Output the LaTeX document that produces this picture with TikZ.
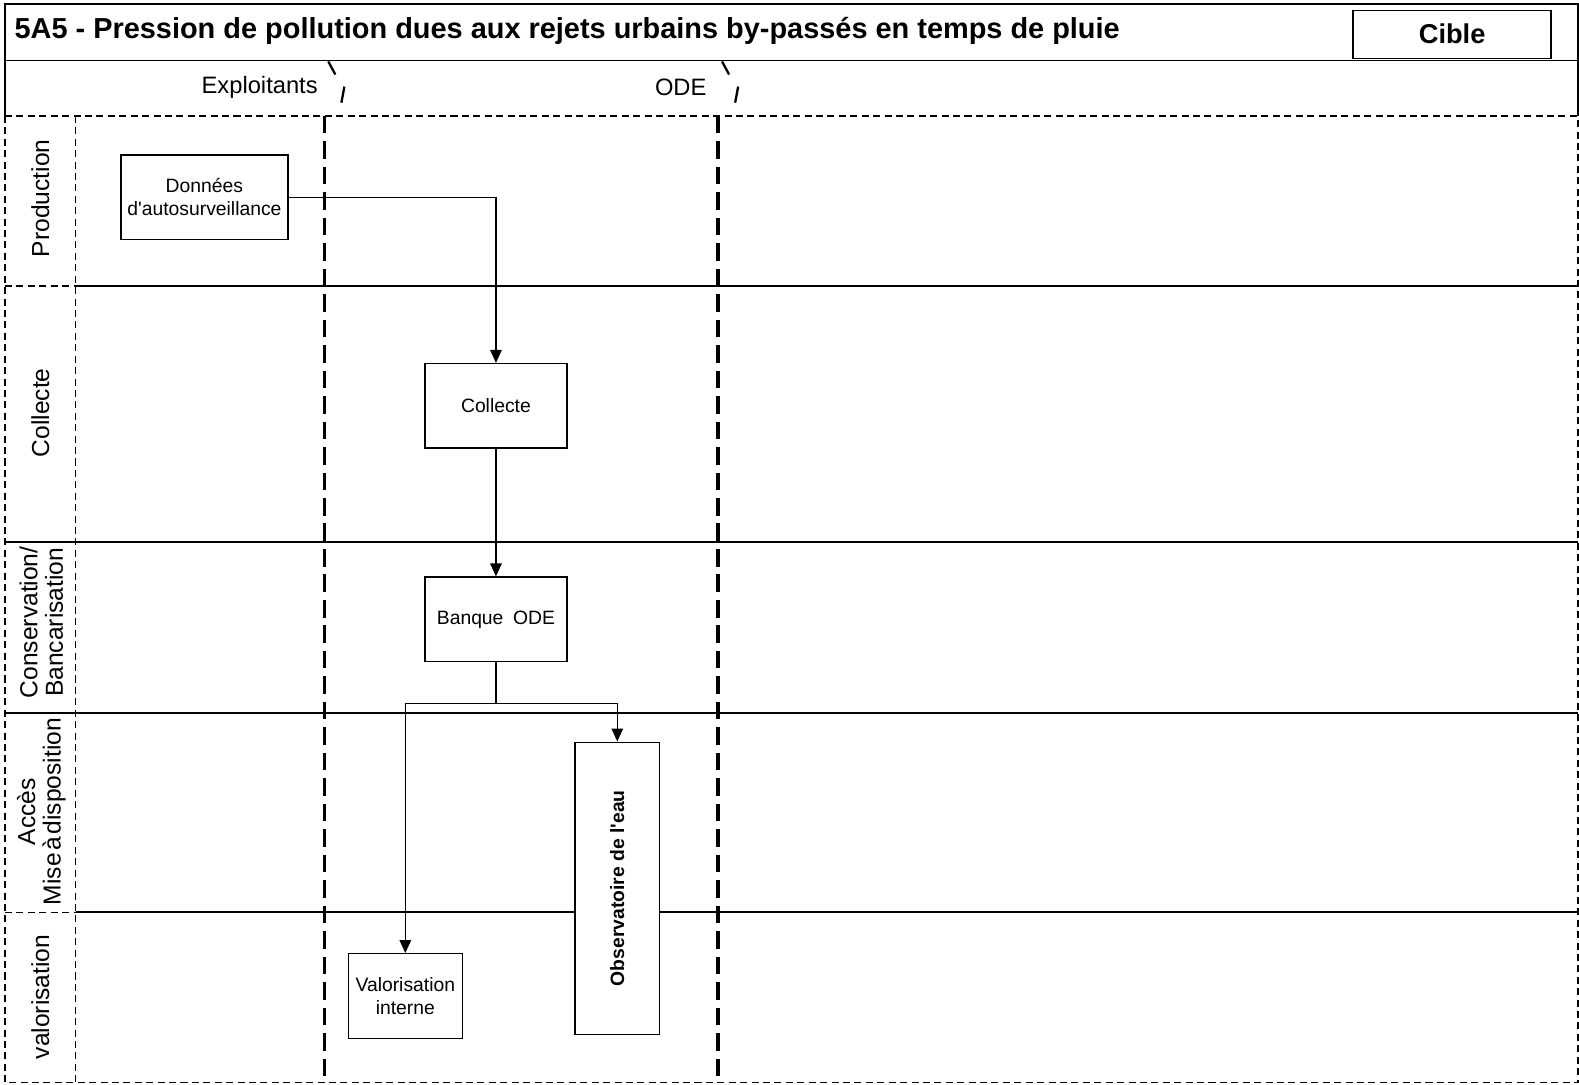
\documentclass[tikz,border=0pt]{standalone}
\usepackage{fontspec}
\setmainfont{Liberation Sans}
\usetikzlibrary{arrows.meta, positioning}
\tikzset{
  every picture/.style={line width=0.8pt},
  box/.style={draw, line width=0.75pt, align=center, inner sep=2pt, font=\fontsize{11}{13}\selectfont},
  arrow/.style={-{Triangle[length=2.6mm, width=2.3mm]}, line width=0.8pt},
  lane/.style={line width=1.2pt},
  column/.style={line width=2pt, dash pattern=on 10pt off 4.5pt},
  frame/.style={line width=0.8pt, dash pattern=on 4pt off 2.5pt},
  lanelabel/.style={rotate=90, align=center, font=\fontsize{14}{14.5}\selectfont},
  colhead/.style={anchor=east, font=\fontsize{13.5}{15}\selectfont},
}

\begin{document}
\begin{tikzpicture}[x=0.02014cm, y=-0.02014cm]
  \useasboundingbox (0,0) rectangle (1568,1077);
  % title and header rows
  \draw (5,115) -- (5,4) -- (1567,4) -- (1567,115);
  \draw (5,60) -- (1567,60);
  \node[anchor=west, font=\fontsize{16.45}{18}\selectfont\bfseries] (title) at (8,31) {5A5 - Pression de pollution dues aux rejets urbains by-passés en temps de pluie};
  \node[draw, line width=0.8pt, minimum width=3.96cm, minimum height=0.96cm, font=\fontsize{15.5}{17}\selectfont\bfseries] (cible) at (1442,34) {Cible};
  \node[colhead] (expl) at (322,87) {Exploitants};
  \node[colhead] (ode) at (708,87) {ODE};
  \foreach \x in {322,713} {
    \draw[line width=1.3pt] (\x+4,61) -- (\x+11,74);
    \draw[line width=1.3pt] (\x+20,86) -- (\x+17,102);
  }
  % swimlane frame
  \draw[frame] (5,115) -- (1567,115);
  \draw[frame] (5,115) -- (5,1075) -- (1567,1075) -- (1567,115);
  \draw[frame] (75,115) -- (75,1075);
  \foreach \y in {284,906} \draw[frame] (5,\y) -- (75,\y);
  \foreach \y in {538,708} \draw[lane] (5,\y) -- (75,\y);
  \foreach \y in {284,538,708,906} \draw[lane] (75,\y) -- (1567,\y);
  \draw[column] (322,115) -- (322,1075);
  \draw[column] (713,115) -- (713,1075);
  % lane labels
  \node[lanelabel] (lprod) at (40,197) {Production};
  \node[lanelabel] (lcoll) at (40,410) {Collecte};
  \node[lanelabel] (lcons) at (41,618) {Conservation/\\Bancarisation};
  \node[lanelabel] (lacc) at (41,806) {Accès\\Mise\hspace{1.5pt}à\hspace{1.5pt}disposition};
  \node[lanelabel] (lval) at (40,990) {valorisation};
  % process boxes
  \node[box, fill=white, minimum width=3.34cm, minimum height=1.69cm] (don) at (203,196) {Données\\d\textquotesingle autosurveillance};
  \node[box, minimum width=2.84cm, minimum height=1.69cm] (col) at (492.5,403) {Collecte};
  \node[box, minimum width=2.84cm, minimum height=1.69cm] (bnq) at (492.5,615) {Banque\hspace{0.5em}ODE};
  \node[box, fill=white, minimum width=1.69cm, minimum height=5.84cm] (obs) at (613,882) {\rotatebox{90}{\bfseries Observatoire de l\textquotesingle eau}};
  \node[box, minimum width=2.28cm, minimum height=1.69cm] (val) at (402.5,989) {Valorisation\\interne};
  % flows
  \draw[arrow] (don.east) -| (col.north);
  \draw[arrow] (col.south) -- (bnq.north);
  \draw (bnq.south) -- ++(0,41) coordinate (split);
  \draw[arrow] (split) -| (val.north);
  \draw[arrow] (split) -| (obs.north);
\end{tikzpicture}
\end{document}
